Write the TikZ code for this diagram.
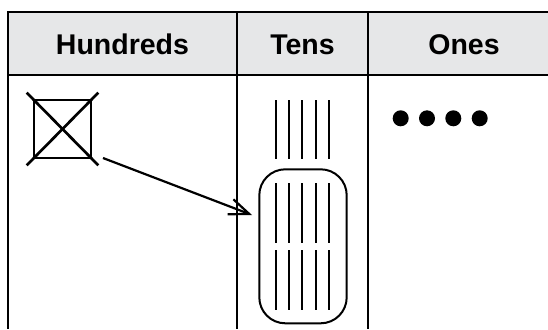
\documentclass[tikz,border=0pt]{standalone}
\usepackage{fontspec}
\setmainfont{Liberation Sans}
\usetikzlibrary{arrows.meta}
\definecolor{headgray}{RGB}{230,231,232}
\tikzset{
  grid/.style={line width=1.1pt, draw=black},
  head/.style={font=\fontsize{28.5}{34}\selectfont\bfseries, anchor=base, inner sep=0pt},
  stick/.style={line width=2pt},
  dot/.style={circle, fill=black, minimum size=16pt, inner sep=0pt},
}
\begin{document}
\begin{tikzpicture}[x=1pt, y=-1pt]
\useasboundingbox (0,0) rectangle (548,329);

% header band
\fill[headgray] (8,12) rectangle (548,75);
\draw[grid] (548,12) -- (8,12) -- (8,329);
\draw[grid] (8,75) -- (548,75);
\draw[grid] (237,12) -- (237,329);
\draw[grid] (368,12) -- (368,329);

\node[head] (hh) at (122.5,54) {Hundreds};
\node[head] (ht) at (302.5,54) {Tens};
\node[head] (ho) at (464,54) {Ones};

% one hundred, crossed out
\node[draw, line width=2.7pt, minimum width=57pt, minimum height=58pt, inner sep=0pt] (hundred) at (62.5,129) {};
\draw[line width=2.7pt] ([shift={(-6,-6)}]hundred.north west) -- ([shift={(6,6)}]hundred.south east);
\draw[line width=2.7pt] ([shift={(6,-6)}]hundred.north east) -- ([shift={(-6,6)}]hundred.south west);

% loose tens
\foreach \x in {276,289.2,302.4,315.6,328.8}
  \draw[stick] (\x,100) -- (\x,159);

% regrouped tens
\node[draw, line width=2pt, rounded corners=26pt, minimum width=87.4pt, minimum height=154pt, inner sep=0pt] (group) at (303,246.3) {};
\foreach \x in {276,289.2,302.4,315.6,328.8} {
  \draw[stick] (\x,183.3) -- (\x,243.3);
  \draw[stick] (\x,250) -- (\x,310);
}

% exchange arrow
\coordinate (from) at (103,158);
\coordinate (to) at (252,215);
\draw[line width=2.2pt, -{Straight Barb[length=20pt, width=16pt, line width=2.2pt]}] (from) -- (to);

% ones
\foreach \x [count=\i] in {400.7,427,453.3,479.7}
  \node[dot] (one\i) at (\x,118.3) {};
\end{tikzpicture}
\end{document}
